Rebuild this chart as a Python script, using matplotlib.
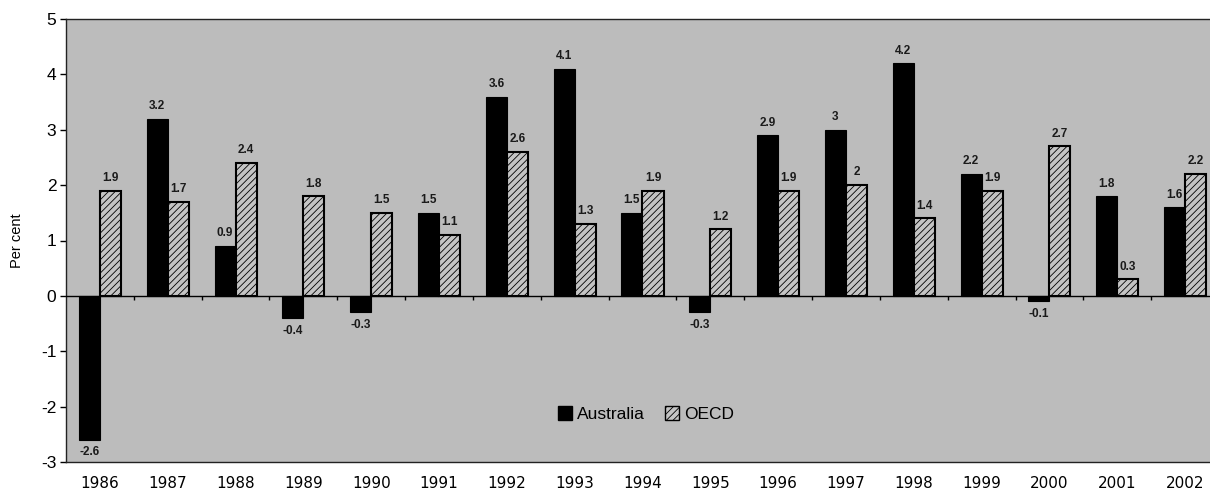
import matplotlib
matplotlib.use("Agg")
import matplotlib.pyplot as plt
import numpy as np
from matplotlib.patches import Patch

years = ["1986", "1987", "1988", "1989", "1990", "1991", "1992", "1993", "1994",
         "1995", "1996", "1997", "1998", "1999", "2000", "2001", "2002"]
australia = [-2.6, 3.2, 0.9, -0.4, -0.3, 1.5, 3.6, 4.1, 1.5, -0.3, 2.9, 3, 4.2, 2.2, -0.1, 1.8, 1.6]
oecd = [1.9, 1.7, 2.4, 1.8, 1.5, 1.1, 2.6, 1.3, 1.9, 1.2, 1.9, 2, 1.4, 1.9, 2.7, 0.3, 2.2]
aus_labels = ["-2.6", "3.2", "0.9", "-0.4", "-0.3", "1.5", "3.6", "4.1", "1.5", "-0.3",
              "2.9", "3", "4.2", "2.2", "-0.1", "1.8", "1.6"]
oecd_labels = ["1.9", "1.7", "2.4", "1.8", "1.5", "1.1", "2.6", "1.3", "1.9", "1.2",
               "1.9", "2", "1.4", "1.9", "2.7", "0.3", "2.2"]

plt.rcParams['font.family'] = 'sans-serif'
plt.rcParams['font.sans-serif'] = ['Liberation Sans', 'Arial', 'DejaVu Sans']
plt.rcParams['axes.unicode_minus'] = False
plt.rcParams['hatch.color'] = '#707070'
plt.rcParams['hatch.linewidth'] = 0.6

fig = plt.figure(figsize=(12.1, 4.92), dpi=100)
ax = fig.add_axes([66 / 1210, 30 / 492, 1153 / 1210, 443 / 492])
bg = '#bcbcbc'
ax.set_facecolor(bg)

x = np.arange(len(years))
w = 0.31
ax.bar(x - w / 2, australia, w, color='black', edgecolor='black', linewidth=0.8,
       label='Australia', zorder=3)
ax.bar(x + w / 2, oecd, w, color='#c4c4c4', edgecolor='black', linewidth=1.5,
       hatch='/////', label='OECD', zorder=3)

lab_kw = dict(fontsize=8.5, color='#1a1a1a', zorder=4, fontweight='bold')
for xi, v, s in zip(x - w / 2, australia, aus_labels):
    off = 0.12 if v >= 0 else -0.12
    ax.text(xi, v + off, s, ha='center', va='bottom' if v >= 0 else 'top', **lab_kw)
for xi, v, s in zip(x + w / 2, oecd, oecd_labels):
    ax.text(xi, v + 0.12, s, ha='center', va='bottom', **lab_kw)

ax.axhline(0, color='black', linewidth=1.0, zorder=4)
bounds = np.arange(len(years) + 1) - 0.5
ax.vlines(bounds[1:-1], 0, -0.08, color='black', linewidth=1.0, zorder=4)

ax.set_xlim(-0.5, len(years) - 0.5)
ax.set_ylim(-3, 5)
ax.set_yticks(range(-3, 6))
ax.set_xticks(x)
ax.set_xticklabels(years, family='DejaVu Sans', fontsize=11)
ax.tick_params(axis='x', length=0, pad=10)
ax.tick_params(axis='y', length=4, width=1, labelsize=12.5, pad=3)
ax.set_ylabel('Per cent', fontsize=10.5, labelpad=12)

for sp in ax.spines.values():
    sp.set_linewidth(1.0)
    sp.set_color('#222222')

handles = [Patch(facecolor='black', edgecolor='black'),
           Patch(facecolor='#c4c4c4', edgecolor='black', hatch='/////')]
ax.legend(handles, ['Australia', 'OECD'], loc='lower left',
          bbox_to_anchor=(476 / 1153, 0.055), ncol=2, frameon=False,
          fontsize=12.5, handlelength=0.8, handleheight=0.8, handletextpad=0.3,
          columnspacing=1.2)

fig.savefig('out.png', dpi=100)
